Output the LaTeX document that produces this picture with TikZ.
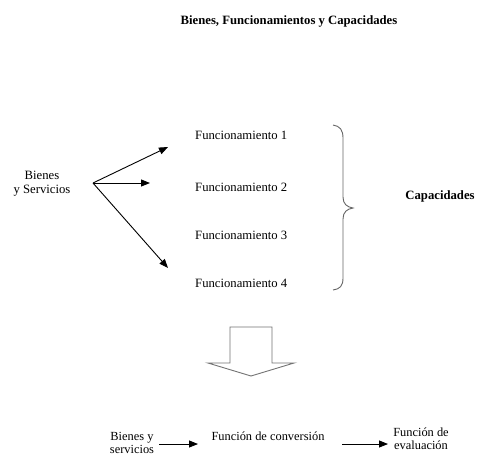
\documentclass[tikz,border=0pt]{standalone}
\usepackage{fontspec}
\setmainfont{Liberation Serif}
\usetikzlibrary{arrows.meta}
\begin{document}
\begin{tikzpicture}[x=1pt,y=-1pt,
  lbl/.style={font=\fontsize{12.7}{14}\selectfont, inner sep=0pt, align=center},
  lblb/.style={font=\fontsize{12.4}{13}\selectfont, inner sep=0pt, align=center},
  ttl/.style={font=\fontsize{12.7}{14}\selectfont\bfseries, inner sep=0pt},
  arr/.style={line width=0.9pt, -{Triangle[length=9pt,width=7pt]}},
  blockarrow/.style={draw=black!55, line width=0.9pt, fill=white},
  bracestyle/.style={draw=black!60, line width=0.9pt}]
\useasboundingbox (0,0) rectangle (478,453);
\fill[white] (0,0) rectangle (478,453);
% title
\node[ttl] (title) at (289,21) {Bienes, Funcionamientos y Capacidades};
% upper part
\node[lbl] (bienes) at (42,184) {Bienes\\y Servicios};
\node[lbl, anchor=west] (f1) at (195,135) {Funcionamiento 1};
\node[lbl, anchor=west] (f2) at (195,187) {Funcionamiento 2};
\node[lbl, anchor=west] (f3) at (195,235) {Funcionamiento 3};
\node[lbl, anchor=west] (f4) at (195,283) {Funcionamiento 4};
\node[ttl] (cap) at (440,196) {Capacidades};
\coordinate (fork) at (93,183);
\coordinate (t1) at (168,147);
\coordinate (t2) at (150,183);
\coordinate (t4) at (168,268);
\draw[arr] (fork) -- (t1);
\draw[arr] (fork) -- (t2);
\draw[arr] (fork) -- (t4);
% brace
\draw[bracestyle] (333,125) .. controls (340,126) and (343,130) .. (343,138)
  -- (343,197) .. controls (343,204) and (347,207) .. (353,208)
  .. controls (347,209) and (343,212) .. (343,219)
  -- (343,278) .. controls (343,286) and (340,289) .. (333,290);
% block arrow
\draw[blockarrow] (230,327) -- (272,327) -- (272,363) -- (294,363) -- (251,376)
  -- (208,363) -- (230,363) -- cycle;
% lower part
\node[lblb] (bienes2) at (132,443) {Bienes y\\servicios};
\node[lblb] (conv) at (268,436) {Función de conversión};
\node[lblb] (eval) at (421,439) {Función de\\evaluación};
\coordinate (a1s) at (159,444);
\coordinate (a1e) at (198,444);
\coordinate (a2s) at (342,444);
\coordinate (a2e) at (388,444);
\draw[arr] (a1s) -- (a1e);
\draw[arr] (a2s) -- (a2e);
\end{tikzpicture}
\end{document}
